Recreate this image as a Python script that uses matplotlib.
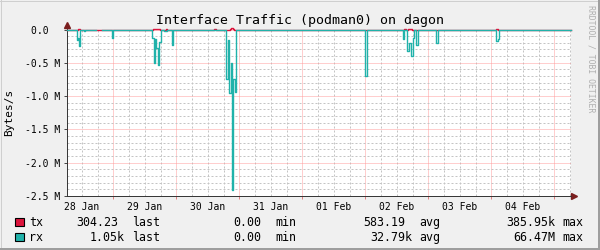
import numpy as np
import pandas as pd
import matplotlib
matplotlib.use("Agg")
from matplotlib import pyplot as plt
import matplotlib.dates as mdates
from matplotlib.patches import Rectangle
from matplotlib.lines import Line2D
from matplotlib.ticker import MultipleLocator, FuncFormatter, NullFormatter

# graph window (one week)
start = "2025-01-28 06:15"
end = "2025-02-05 06:15"

# rx traffic, bytes/s (drawn below the axis), value holds until the next time
rx_times = [
    "2025-01-28 06:15", "2025-01-28 10:05", "2025-01-28 10:25", "2025-01-28 11:05",
    "2025-01-28 11:30", "2025-01-28 12:40", "2025-01-28 13:05", "2025-01-28 17:20",
    "2025-01-28 19:35", "2025-01-28 23:25", "2025-01-29 00:00", "2025-01-29 00:20",
    "2025-01-29 00:55", "2025-01-29 14:40", "2025-01-29 15:20", "2025-01-29 15:45",
    "2025-01-29 16:05", "2025-01-29 16:55", "2025-01-29 17:35", "2025-01-29 18:00",
    "2025-01-29 19:25", "2025-01-29 20:35", "2025-01-29 22:15", "2025-01-29 22:55",
    "2025-01-30 14:20", "2025-01-30 15:15", "2025-01-30 19:05", "2025-01-30 19:40",
    "2025-01-30 20:05", "2025-01-30 20:40", "2025-01-30 21:15", "2025-01-30 21:45",
    "2025-01-30 22:15", "2025-01-30 22:40", "2025-02-01 23:55", "2025-02-02 00:35",
    "2025-02-02 14:20", "2025-02-02 14:55", "2025-02-02 16:00", "2025-02-02 16:35",
    "2025-02-02 17:20", "2025-02-02 18:00", "2025-02-02 18:25", "2025-02-02 19:20",
    "2025-02-02 20:00", "2025-02-03 02:55", "2025-02-03 03:35", "2025-02-04 01:45",
    "2025-02-04 02:25", "2025-02-04 02:55", "2025-02-05 06:15",
]
rx_vals = [
    0, 0.16e6, 0.13e6, 0.25e6,
    0, 0.02e6, 0, np.nan,
    0, 0.13e6, 0, 0.015e6,
    0, 0.13e6, 0.51e6, 0.15e6,
    0.28e6, 0.53e6, 0.19e6, 0,
    0.03e6, 0, 0.23e6, 0,
    0.015e6, 0, 0.74e6, 0.16e6,
    0.96e6, 0.51e6, 2.41e6, 0.74e6,
    0.94e6, 0, 0.70e6, 0,
    0.15e6, 0, 0.33e6, 0.21e6,
    0.40e6, 0.13e6, 0, 0.23e6,
    0, 0.20e6, 0, 0.18e6,
    0.15e6, 0, 0,
]

# tx traffic, bytes/s (tiny, sits on the zero line)
tx_times = [
    "2025-01-28 06:15", "2025-01-28 10:25", "2025-01-28 11:10", "2025-01-29 15:00",
    "2025-01-29 17:40", "2025-01-29 20:00", "2025-01-29 20:30", "2025-01-30 14:25",
    "2025-01-30 15:05", "2025-01-30 20:20", "2025-01-30 20:55", "2025-01-30 21:35",
    "2025-01-30 22:00", "2025-02-02 14:40", "2025-02-02 15:20", "2025-02-02 16:15",
    "2025-02-02 17:55", "2025-02-04 01:45", "2025-02-04 02:25", "2025-02-05 06:15",
]
tx_vals = [
    0, 9e3, 0, 9e3,
    0, 9e3, 0, 9e3,
    0, 9e3, 20e3, 9e3,
    0, 9e3, 0, 9e3,
    0, 9e3, 0, 0,
]

# legend statistics
names = ["tx", "rx"]
last_vals = ["304.23", "1.05k"]
min_vals = ["0.00", "0.00"]
avg_vals = ["583.19", "32.79k"]
max_vals = ["385.95k", "66.47M"]

tx_col = "#DC143C"
rx_col = "#20B2AA"
mono = "DejaVu Sans Mono"
W, H = 600, 250

fig = plt.figure(figsize=(6, 2.5), dpi=100, facecolor="#F0F0F0")
L, R, T, B = 66.7, 570.7, 29.5, 196
ax = fig.add_axes([L / W, 1 - B / H, (R - L) / W, (B - T) / H])
ax.set_facecolor("white")

rx_t = pd.to_datetime(rx_times)
tx_t = pd.to_datetime(tx_times)
ax.plot(tx_t, np.array(tx_vals), drawstyle="steps-post", color=tx_col, lw=1.0,
        clip_on=False, zorder=3)
ax.plot(rx_t, -np.array(rx_vals), drawstyle="steps-post", color=rx_col, lw=1.0,
        clip_on=False, zorder=4)

ax.set_xlim(pd.Timestamp(start), pd.Timestamp(end))
ax.set_ylim(-2.5e6, 0)

# x: midnight = major (red grid), every 6h minor, label at noon
ax.xaxis.set_major_locator(mdates.HourLocator(byhour=[0]))
ax.xaxis.set_minor_locator(mdates.HourLocator(byhour=[6, 12, 18]))
ax.xaxis.set_major_formatter(NullFormatter())
def xlab(x, pos):
    d = mdates.num2date(x)
    return d.strftime("%d %b") if d.hour == 12 else ""
ax.xaxis.set_minor_formatter(FuncFormatter(xlab))

ax.yaxis.set_major_locator(MultipleLocator(0.5e6))
ax.yaxis.set_minor_locator(MultipleLocator(0.1e6))
def ylab(v, pos):
    if abs(v) < 1:
        return "0.0  "
    return "%.1f M" % (v / 1e6)
ax.yaxis.set_major_formatter(FuncFormatter(ylab))

ax.set_axisbelow(True)
# dotted grid, 1px on / 1px off
for gl in ax.get_xgridlines() + ax.get_ygridlines():
    pass
ax.grid(which="major", color="#FF9E9E", linestyle=(0, (1, 1)), lw=0.72, zorder=1)
ax.grid(which="minor", color="#C4C4C4", linestyle=(0, (2, 2)), lw=0.72, zorder=1)

for lab in ax.get_xticklabels(which="both") + ax.get_yticklabels():
    lab.set_family(mono)
    lab.set_fontsize(7)
ax.tick_params(axis="y", which="major", length=2.2, width=0.7, pad=2.2, color="#444")
ax.tick_params(axis="y", which="minor", length=0)
ax.tick_params(axis="x", which="major", length=2, width=0.7, color="#E08080")
ax.tick_params(axis="x", which="minor", length=0, pad=4)

for s in ["top", "right"]:
    ax.spines[s].set_visible(False)
for s in ["left", "bottom"]:
    ax.spines[s].set_color("#333333")
    ax.spines[s].set_linewidth(0.7)

# axis arrows
arrow_col = "#7A1E1E"
ax.plot([0, 0], [1, 1 + 4 / (B - T)], transform=ax.transAxes, clip_on=False,
        color="#333333", lw=0.7)
ax.plot([0], [1 + 4.5 / (B - T)], transform=ax.transAxes, clip_on=False,
        marker="^", ms=4, color=arrow_col, mec=arrow_col)
ax.plot([1, 1 + 2 / (R - L)], [0, 0], transform=ax.transAxes, clip_on=False,
        color="#333333", lw=0.7)
ax.plot([1 + 3.5 / (R - L)], [0], transform=ax.transAxes, clip_on=False,
        marker=">", ms=4, color=arrow_col, mec=arrow_col)

fig.text(0.5, 1 - 24 / H, "Interface Traffic (podman0) on dagon", ha="center",
         va="baseline", family=mono, fontsize=9.5)
fig.text(9.5 / W, 1 - (T + B) / 2 / H, "Bytes/s", rotation=90, ha="center",
         va="center", family=mono, fontsize=8)
fig.text(591 / W, 1 - 5 / H, "RRDTOOL / TOBI OETIKER", rotation=270, ha="center",
         va="top", family=mono, fontsize=5.9, color="#AFAFAF")

# legend rows: value columns right aligned, values without SI prefix keep a blank
cw = 7.0
def vend(col_end, s):
    return col_end - (0 if s[-1].isalpha() else cw)

cols = [tx_col, rx_col]
base_y = [226, 240.7]
for i in range(2):
    y = 1 - base_y[i] / H
    fig.add_artist(Rectangle((15 / W, 1 - (base_y[i] + 0.3) / H), 9 / W, 8.5 / H,
                             transform=fig.transFigure, facecolor=cols[i],
                             edgecolor="black", lw=0.8))
    kw = dict(va="baseline", family=mono, fontsize=8.4)
    fig.text(29 / W, y, names[i], **kw)
    fig.text(vend(125, last_vals[i]) / W, y, last_vals[i], ha="right", **kw)
    fig.text(132 / W, y, "last", **kw)
    fig.text(vend(268.5, min_vals[i]) / W, y, min_vals[i], ha="right", **kw)
    fig.text(275.5 / W, y, "min", **kw)
    fig.text(vend(412, avg_vals[i]) / W, y, avg_vals[i], ha="right", **kw)
    fig.text(419 / W, y, "avg", **kw)
    fig.text(vend(555, max_vals[i]) / W, y, max_vals[i], ha="right", **kw)
    fig.text(562 / W, y, "max", **kw)

# frame shading
fig.add_artist(Line2D([0, 1], [1 - 0.5 / H, 1 - 0.5 / H], transform=fig.transFigure,
                      color="#CFCFCF", lw=0.72))
fig.add_artist(Line2D([0.5 / W, 0.5 / W], [0, 1], transform=fig.transFigure,
                      color="#CFCFCF", lw=0.72))
fig.add_artist(Line2D([1 - 1 / W, 1 - 1 / W], [0, 1], transform=fig.transFigure,
                      color="#9E9E9E", lw=1.44))
fig.add_artist(Line2D([0, 1], [1 / H, 1 / H], transform=fig.transFigure,
                      color="#9E9E9E", lw=1.44))

fig.savefig("out.png", dpi=100, facecolor=fig.get_facecolor())
